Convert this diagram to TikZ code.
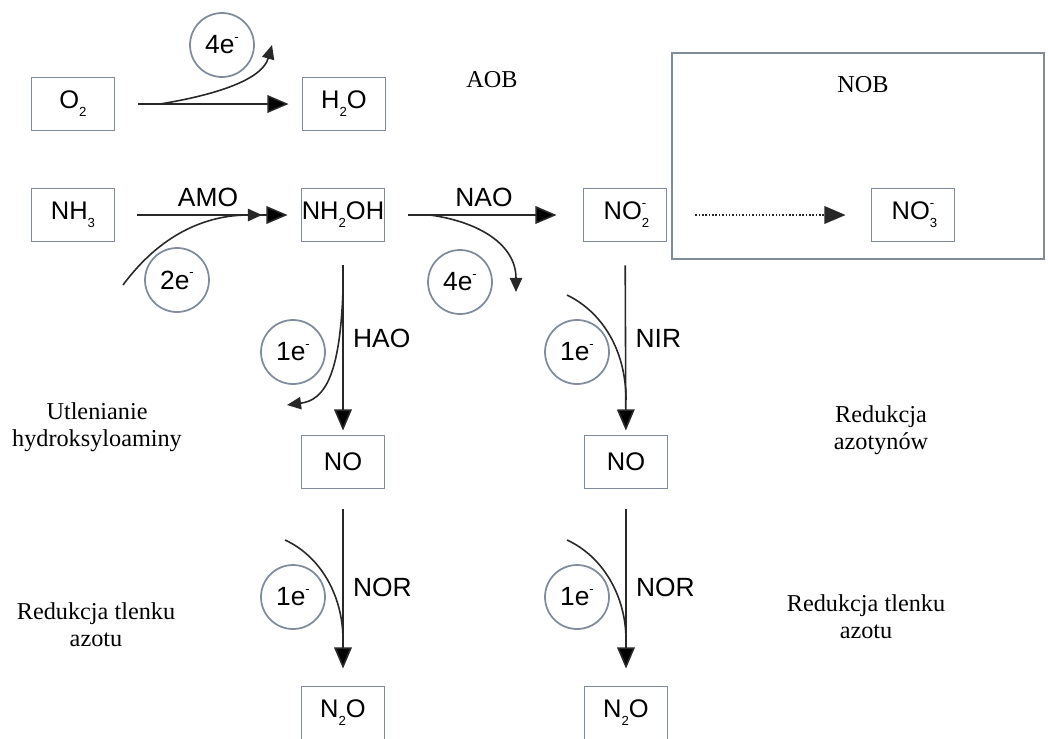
\documentclass[tikz,border=0pt]{standalone}
\usepackage{fontspec}
\setmainfont{Liberation Serif}
\newfontfamily\chemfont{Liberation Sans}
\usepackage{tikz}
\usetikzlibrary{arrows.meta,positioning}
\definecolor{boxgray}{RGB}{128,140,156}
\definecolor{linegray}{RGB}{40,40,40}
\newcommand{\lo}[1]{\raisebox{-0.6ex}{\fontsize{7.5}{9}\selectfont #1}}
\newcommand{\hi}[1]{\raisebox{0.9ex}{\fontsize{7.5}{9}\selectfont #1}}
\newcommand{\lohi}[2]{\rlap{\lo{#1}}\hi{#2}}
\tikzset{
  chem/.style={draw=boxgray, line width=1.1pt, minimum width=1.66cm, minimum height=1.06cm, inner sep=0pt, font=\chemfont\fontsize{14.5}{17}\selectfont},
  elec/.style={circle, draw=boxgray, line width=1pt, minimum size=1.28cm, inner sep=0pt, font=\chemfont\fontsize{15}{18}\selectfont},
  enz/.style={font=\chemfont\fontsize{15}{18}\selectfont},
  lbl/.style={font=\fontsize{13.8}{15.3}\selectfont, align=center},
  reac/.style={draw=linegray, line width=0.9pt, -{Triangle[length=12pt,width=10pt]}},
  flow/.style={draw=linegray, line width=0.9pt},
  flowtip/.style={flow, -{Triangle[length=8pt,width=7pt]}}
}
\begin{document}
\begin{tikzpicture}[x=0.02cm, y=-0.02cm]
  \useasboundingbox (0,0) rectangle (1048,738);
  \draw[boxgray, line width=1.1pt] (672,53) rectangle (1044,259);

  \node[chem] (o2)    at (73,104)  {O\lo{2}};
  \node[chem] (h2o)   at (344,104) {H\lo{2}O};
  \node[chem] (nh3)   at (73,215)  {NH\lo{3}};
  \node[chem] (nh2oh) at (343,215) {NH\lo{2}OH};
  \node[chem] (no2)   at (625,215) {NO\lohi{2}{-}};
  \node[chem] (no3)   at (913,215) {NO\lohi{3}{-}};
  \node[chem] (nol)   at (343,462) {NO};
  \node[chem] (nor)   at (626,462) {NO};
  \node[chem] (n2ol)  at (343,713) {N\lo{2}O};
  \node[chem] (n2or)  at (626,713) {N\lo{2}O};

  \node[elec] (e4a) at (222,45)  {4e\hi{-}};
  \node[elec] (e2)  at (177,280) {2e\hi{-}};
  \node[elec] (e4b) at (460,282) {4e\hi{-}};
  \node[elec] (e1a) at (293,352) {1e\hi{-}};
  \node[elec] (e1b) at (577,352) {1e\hi{-}};
  \node[elec] (e1c) at (293,597) {1e\hi{-}};
  \node[elec] (e1d) at (577,597) {1e\hi{-}};

  \node[lbl] (aob)   at (492,80)  {AOB};
  \node[lbl] (nob)   at (863,85)  {NOB};
  \node[lbl] (utl)   at (97,427)  {Utlenianie\\hydroksyloaminy};
  \node[lbl] (redl)  at (96,625)  {Redukcja tlenku\\azotu};
  \node[lbl] (redaz) at (881,430) {Redukcja\\azotynów};
  \node[lbl] (redr)  at (866,617) {Redukcja tlenku\\azotu};

  \path[reac]
  (o2)    edge[shorten <=0.46cm, shorten >=0.26cm] (h2o)
  (nh3)   edge[shorten <=0.44cm, shorten >=0.26cm] node[enz, above=1pt] (amo) {AMO} (nh2oh)
  (nh2oh) edge[shorten <=0.46cm, shorten >=0.52cm] node[enz, above=1pt] (nao) {NAO} (no2)
  (nh2oh) edge[shorten <=0.46cm, shorten >=0.08cm] node[enz, right=2pt] (hao) {HAO} (nol)
  (no2)   edge[shorten <=0.46cm, shorten >=0.08cm] node[enz, right=2pt] (nir) {NIR} (nor)
  (nol)   edge[shorten <=0.40cm, shorten >=0.34cm] node[enz, right=2pt] (norl) {NOR} (n2ol)
  (nor)   edge[shorten <=0.40cm, shorten >=0.34cm] node[enz, right=2pt] (norr) {NOR} (n2or);
  \draw[reac, densely dotted] (no2) -- (no3) [shorten <=0.56cm, shorten >=0.50cm];

  \coordinate (s4a) at (160,104);
  \coordinate (t4a) at (272,45);
  \coordinate (s2)  at (123,285);
  \coordinate (t2)  at (262,215);
  \coordinate (s4b) at (430,215);
  \coordinate (t4b) at (516,292);
  \coordinate (s1a) at (343,290);
  \coordinate (t1a) at (287,405);
  \coordinate (s1b) at (567,295);
  \coordinate (t1b) at (626,400);
  \coordinate (s1c) at (285,540);
  \coordinate (t1c) at (343,640);
  \coordinate (s1d) at (567,540);
  \coordinate (t1d) at (626,640);

  \draw[flowtip] (s4a) .. controls (215,95) and (262,80) .. (t4a);
  \draw[flowtip] (s2) .. controls (160,235) and (205,215) .. (t2);
  \draw[flowtip] (s4b) .. controls (480,222) and (516,245) .. (t4b);
  \draw[flowtip] (s1a) .. controls (340,375) and (325,400) .. (t1a);
  \draw[flow] (s1b) .. controls (602,312) and (626,350) .. (t1b);
  \draw[flow] (s1c) .. controls (320,556) and (343,595) .. (t1c);
  \draw[flow] (s1d) .. controls (602,556) and (626,595) .. (t1d);
\end{tikzpicture}
\end{document}
